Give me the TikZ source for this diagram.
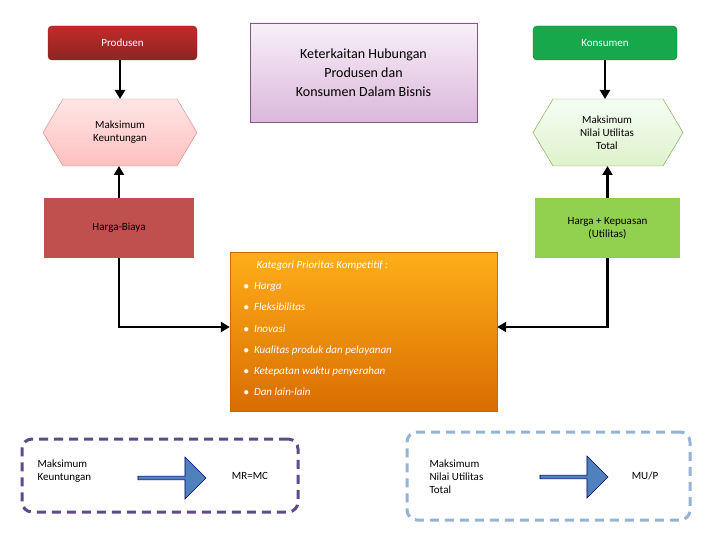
\documentclass[tikz,border=0pt]{standalone}
\usepackage{fontspec}
\setmainfont{Carlito}
\usetikzlibrary{shapes.geometric,shapes.arrows,arrows.meta}
\begin{document}
\begin{tikzpicture}[x=1pt,y=-1pt,
  txt/.style={font=\fontsize{11}{13}\selectfont,align=center},
  conn/.style={line width=2.5pt,-{Triangle[length=9pt,width=10pt]}},
  blk/.style={single arrow,draw=blue!40!black,fill=blue!55!cyan!60!gray,minimum height=68pt,minimum width=42pt,single arrow head extend=3pt,inner sep=0pt,line width=0.6pt}]
\useasboundingbox (0,0) rectangle (720,540);
\definecolor{pred}{HTML}{B83230}\definecolor{hb}{HTML}{C0504D}
\definecolor{kgreen}{HTML}{17A84B}\definecolor{hk}{HTML}{92D050}
\definecolor{dpur}{HTML}{5F4B8B}\definecolor{lblue}{HTML}{95B3D7}
\definecolor{arrb}{HTML}{4F81BD}
\node[txt,draw=pred!70!black,rounded corners=4pt,top color=pred!85!red,bottom color=pred!75!black,text=white,minimum width=149pt,minimum height=34pt] (prod) at (122.5,43) {Produsen};
\node[txt,draw=gray!70!violet,top color=violet!6,bottom color=violet!28,minimum width=227pt,minimum height=99pt,font=\fontsize{14}{19}\selectfont] (title) at (363.5,72.5) {Keterkaitan Hubungan\\Produsen dan\\Konsumen Dalam Bisnis};
\node[txt,draw=kgreen!70!black,rounded corners=4pt,fill=kgreen,text=white,minimum width=144pt,minimum height=34pt] (kons) at (605,43) {Konsumen};
\node[txt,regular polygon,regular polygon sides=6,shape border rotate=0,draw=pred!60,top color=red!12,bottom color=red!25,minimum size=10pt,
  inner sep=0pt] (dummy) at (-100,-100) {};
\path[draw=pred!60,top color=red!10,bottom color=red!25] (43,132.5)--(63,99)--(177,99)--(197,132.5)--(177,166)--(63,166)--cycle;
\node[txt] (hexl) at (120,132.5) {Maksimum\\Keuntungan};
\path[draw=hk!80!black,top color=green!4,bottom color=hk!30] (533,132.5)--(553,99)--(663,99)--(683,132.5)--(663,166)--(553,166)--cycle;
\node[txt] (hexr) at (607,133) {Maksimum\\Nilai Utilitas\\Total};
\node[txt,fill=hb,minimum width=150pt,minimum height=60pt] (hbia) at (119,228) {Harga-Biaya};
\node[txt,fill=hk,minimum width=145pt,minimum height=60pt] (hkep) at (607.5,228) {Harga + Kepuasan\\(Utilitas)};
\node[draw=orange!80!black,top color=orange!70!yellow!90!white,bottom color=orange!85!black,minimum width=267pt,minimum height=159pt] (kat) at (363.5,331.5) {};
\node[text=white,font=\fontsize{11}{21.3}\selectfont\itshape,align=left,anchor=north west] (kattxt) at (240,257) {\hspace*{13pt}Kategori Prioritas Kompetitif :\\
$\bullet$\hspace{5pt}Harga\\$\bullet$\hspace{5pt}Fleksibilitas\\$\bullet$\hspace{5pt}Inovasi\\$\bullet$\hspace{5pt}Kualitas produk dan pelayanan\\$\bullet$\hspace{5pt}Ketepatan waktu penyerahan\\$\bullet$\hspace{5pt}Dan lain-lain};
\draw[conn] (prod.south -| 120,0) -- (120,99);
\draw[conn] (kons.south) -- (605,99);
\draw[conn] (hbia.north) -- (119,166);
\draw[conn] (hkep.north) -- (607.5,166);
\draw[conn] (hbia.south) -- (119,327) -- (kat.west |- 0,327);
\draw[conn] (hkep.south) -- (607.5,327) -- (kat.east |- 0,327);
\node[draw=dpur,line width=3pt,dash pattern=on 9pt off 6pt,rounded corners=10pt,minimum width=276pt,minimum height=73pt] (bl) at (160,475.5) {};
\node[txt,align=left,anchor=west] (bl1) at (34,471) {Maksimum\\Keuntungan};
\node[blk,fill=arrb] (ba1) at (171,478) {};
\node[txt] (mr) at (250,476) {MR=MC};
\node[draw=lblue,line width=3pt,dash pattern=on 9pt off 6pt,rounded corners=10pt,minimum width=283pt,minimum height=88pt] (br) at (548.5,476) {};
\node[txt,align=left,anchor=west] (br1) at (426,477) {Maksimum\\Nilai Utilitas\\Total};
\node[blk,fill=arrb] (ba2) at (573,477) {};
\node[txt] (mu) at (645,476) {MU/P};
\end{tikzpicture}
\end{document}
